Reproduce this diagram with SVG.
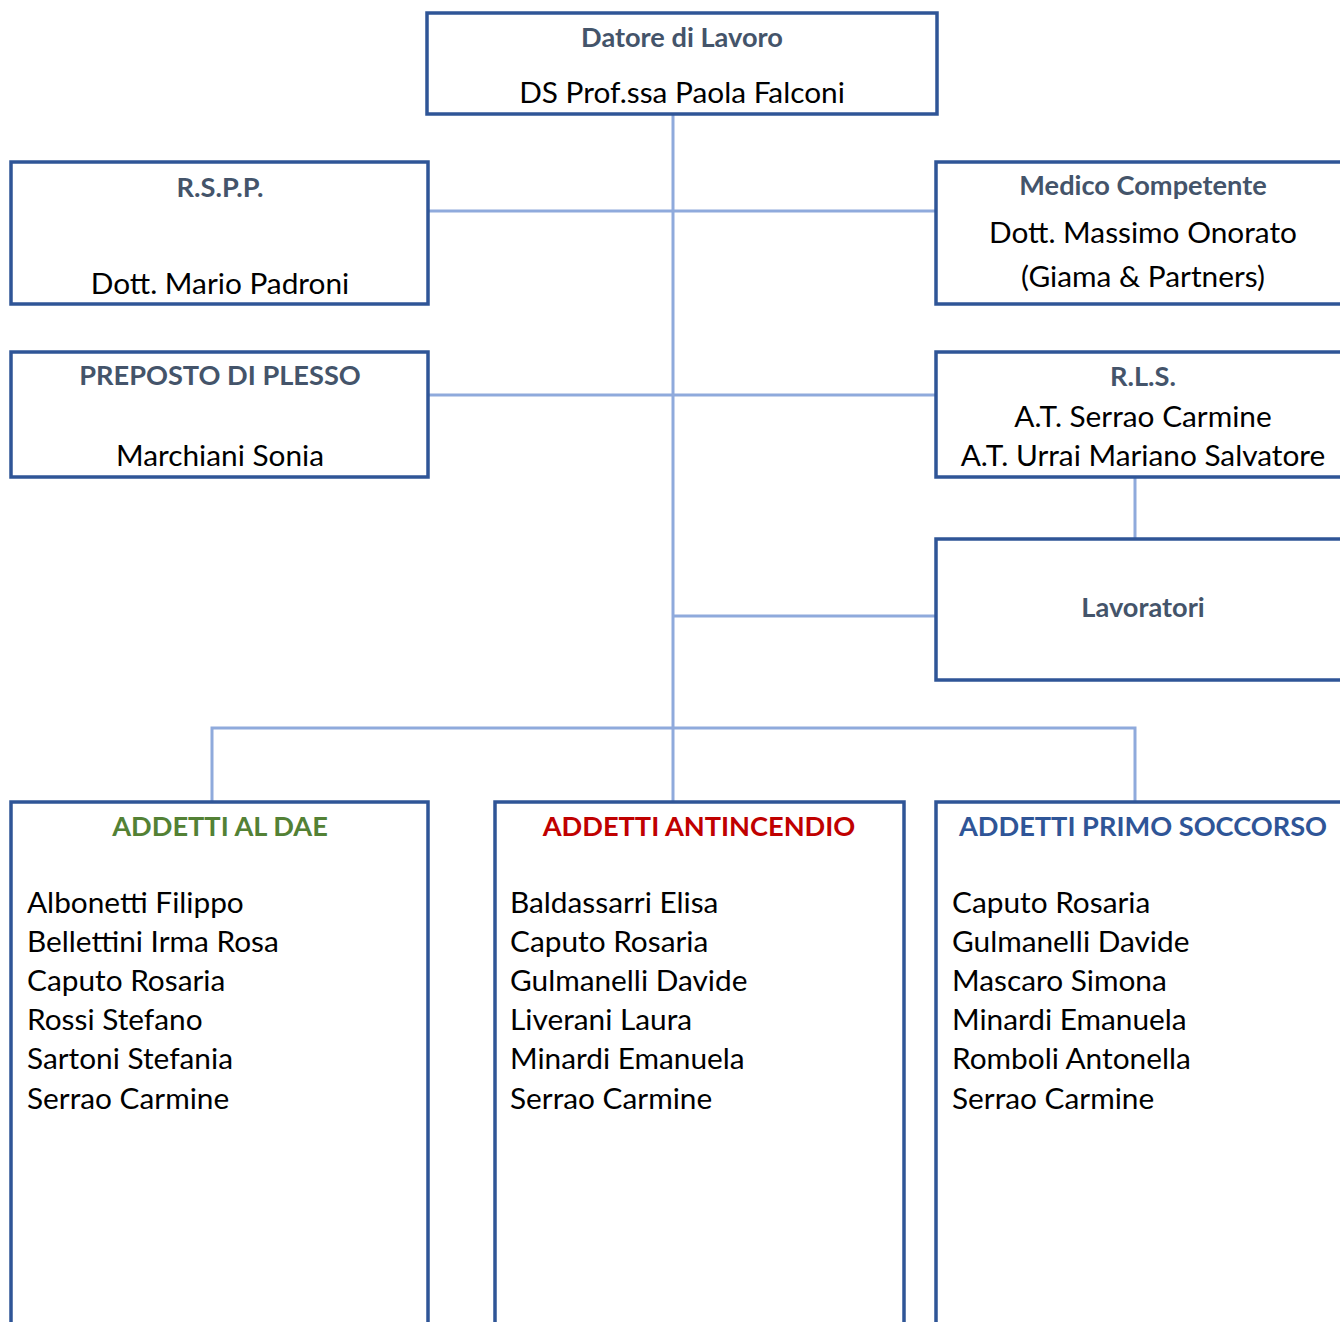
<svg xmlns="http://www.w3.org/2000/svg" width="1340" height="1322" viewBox="0 0 1340 1322">
<style>
.box{fill:#fff;stroke:#2F5597;stroke-width:3.5}
.con{fill:none;stroke:#8FAADC;stroke-width:3}
text{font-family:Lato,"Open Sans",sans-serif;font-size:29.8px;fill:#000}
.t{font-weight:bold;font-size:27.2px;fill:#44546A;text-anchor:middle}
.c{text-anchor:middle}
</style>
<rect width="1340" height="1322" fill="#fff"/>
<g id="connectors">
<path class="con" d="M673,114V802M428,211H936M428,395H936M673,616H936M1135,477V539M212,802V728H1135V802"/>
</g>
<g id="datore"><rect class="box" x="427" y="13" width="510" height="101"/>
<text class="t" x="682" y="47">Datore di Lavoro</text>
<text class="c" x="682" y="103">DS Prof.ssa Paola Falconi</text></g>
<g id="rspp"><rect class="box" x="11" y="162" width="417" height="142"/>
<text class="t" x="220" y="197">R.S.P.P.</text>
<text class="c" x="220" y="294">Dott. Mario Padroni</text></g>
<g id="medico"><rect class="box" x="936" y="162" width="420" height="142"/>
<text class="t" x="1143" y="195">Medico Competente</text>
<text class="c" x="1143" y="243">Dott. Massimo Onorato</text>
<text class="c" x="1143" y="287">(Giama &amp; Partners)</text></g>
<g id="preposto"><rect class="box" x="11" y="352" width="417" height="125"/>
<text class="t" x="220" y="385">PREPOSTO DI PLESSO</text>
<text class="c" x="220" y="466">Marchiani Sonia</text></g>
<g id="rls"><rect class="box" x="936" y="352" width="420" height="125"/>
<text class="t" x="1143" y="386">R.L.S.</text>
<text class="c" x="1143" y="427">A.T. Serrao Carmine</text>
<text class="c" x="1143" y="466">A.T. Urrai Mariano Salvatore</text></g>
<g id="lavoratori"><rect class="box" x="936" y="539" width="420" height="141"/>
<text class="t" x="1143" y="617">Lavoratori</text></g>
<g id="dae"><rect class="box" x="11" y="802" width="417" height="560"/>
<text class="t" x="220" y="836" style="fill:#538135">ADDETTI AL DAE</text>
<text x="27" y="913">Albonetti Filippo</text>
<text x="27" y="952">Bellettini Irma Rosa</text>
<text x="27" y="991">Caputo Rosaria</text>
<text x="27" y="1030">Rossi Stefano</text>
<text x="27" y="1069">Sartoni Stefania</text>
<text x="27" y="1109">Serrao Carmine</text></g>
<g id="antincendio"><rect class="box" x="495" y="802" width="409" height="560"/>
<text class="t" x="699" y="836" style="fill:#C00000">ADDETTI ANTINCENDIO</text>
<text x="510" y="913">Baldassarri Elisa</text>
<text x="510" y="952">Caputo Rosaria</text>
<text x="510" y="991">Gulmanelli Davide</text>
<text x="510" y="1030">Liverani Laura</text>
<text x="510" y="1069">Minardi Emanuela</text>
<text x="510" y="1109">Serrao Carmine</text></g>
<g id="primosoccorso"><rect class="box" x="936" y="802" width="420" height="560"/>
<text class="t" x="1143" y="836" style="fill:#2F5597">ADDETTI PRIMO SOCCORSO</text>
<text x="952" y="913">Caputo Rosaria</text>
<text x="952" y="952">Gulmanelli Davide</text>
<text x="952" y="991">Mascaro Simona</text>
<text x="952" y="1030">Minardi Emanuela</text>
<text x="952" y="1069">Romboli Antonella</text>
<text x="952" y="1109">Serrao Carmine</text></g>
</svg>
